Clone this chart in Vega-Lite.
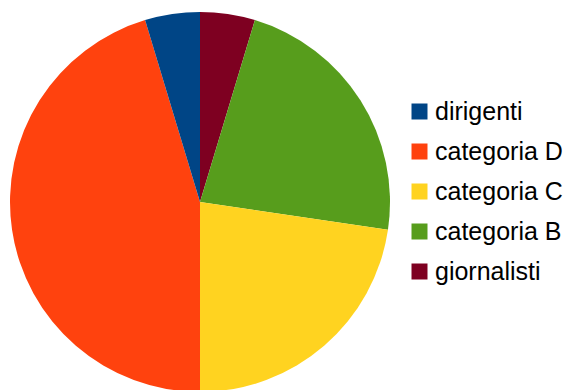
{
  "$schema": "https://vega.github.io/schema/vega-lite/v6.json",
  "width": 400,
  "height": 404,
  "padding": 0,
  "autosize": {"type": "pad"},
  "background": "white",
  "data": {
    "values": [
      {"categoria": "giornalisti", "valore": 14, "ordine": 1},
      {"categoria": "categoria B", "valore": 68, "ordine": 2},
      {"categoria": "categoria C", "valore": 68, "ordine": 3},
      {"categoria": "categoria D", "valore": 136, "ordine": 4},
      {"categoria": "dirigenti", "valore": 14, "ordine": 5}
    ]
  },
  "mark": {"type": "arc", "outerRadius": 190, "stroke": null, "strokeWidth": 0},
  "encoding": {
    "theta": {"field": "valore", "type": "quantitative", "stack": true},
    "order": {"field": "ordine", "type": "quantitative", "sort": "ascending"},
    "color": {
      "field": "categoria",
      "type": "nominal",
      "scale": {
        "domain": ["dirigenti", "categoria D", "categoria C", "categoria B", "giornalisti"],
        "range": ["#004586", "#ff420e", "#ffd320", "#579d1c", "#7e0021"]
      },
      "legend": {
        "title": null,
        "orient": "none",
        "legendX": 407,
        "legendY": 99,
        "padding": 0,
        "symbolType": "square",
        "symbolSize": 256,
        "symbolStrokeWidth": 0,
        "labelFont": "Liberation Sans",
        "labelFontSize": 25,
        "labelColor": "black",
        "labelOffset": 3,
        "rowPadding": 14,
        "labelLimit": 300
      }
    }
  },
  "config": {"view": {"stroke": null}}
}
